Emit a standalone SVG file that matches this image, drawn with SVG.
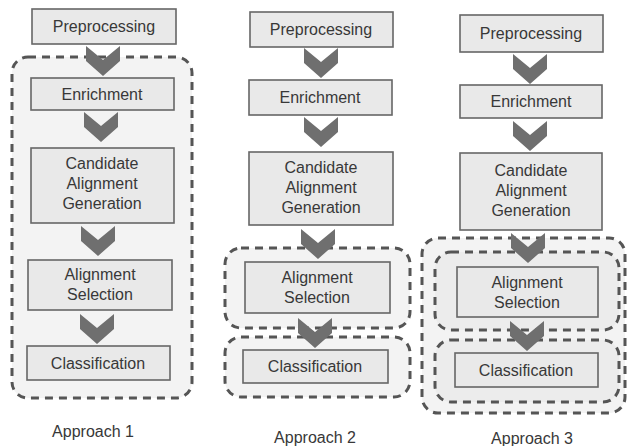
<svg xmlns="http://www.w3.org/2000/svg" width="627" height="446" viewBox="0 0 627 446">
<style>
.box{fill:#e9e9e9;stroke:#666;stroke-width:1.6}
.grp{fill:#f3f3f3;stroke:#555;stroke-width:3;stroke-dasharray:8 6}
.grpi{fill:#ececec;stroke:#555;stroke-width:3;stroke-dasharray:8 6}
.chev{fill:#6f6f6f}
text{font-family:"Liberation Sans",Arial,sans-serif;font-size:16px;fill:#383838;text-anchor:middle}
</style>
<defs>
<polygon id="ch" points="-17,0 0,14 17,0 17,15 0,30 -17,15"/>
</defs>
<rect width="627" height="446" fill="#fff"/>
<g id="groups">
<rect id="g1" class="grp" x="12" y="57" width="180" height="341" rx="16"/>
<rect id="g2a" class="grp" x="225" y="248" width="185" height="80" rx="16"/>
<rect id="g2b" class="grp" x="225" y="337" width="185" height="60" rx="16"/>
<rect id="g3" class="grp" x="422" y="238" width="203" height="175" rx="16"/>
<rect id="g3a" class="grpi" x="435" y="252" width="184" height="78" rx="16"/>
<rect id="g3b" class="grpi" x="435" y="340" width="184" height="62" rx="16"/>
</g>
<g id="connectors">
<use href="#ch" class="chev" x="103" y="46"/>
<use href="#ch" class="chev" x="101" y="112"/>
<use href="#ch" class="chev" x="98" y="226"/>
<use href="#ch" class="chev" x="97" y="314"/>
<use href="#ch" class="chev" x="321" y="48"/>
<use href="#ch" class="chev" x="321" y="117"/>
<use href="#ch" class="chev" x="318" y="229"/>
<use href="#ch" class="chev" x="315" y="318"/>
<use href="#ch" class="chev" x="530" y="54"/>
<use href="#ch" class="chev" x="530" y="121"/>
<use href="#ch" class="chev" x="528" y="233"/>
<use href="#ch" class="chev" x="527" y="321"/>
</g>
<g id="a1-pre"><rect class="box" x="32" y="9" width="144" height="35"/><text x="104" y="32">Preprocessing</text></g>
<g id="a1-enr"><rect class="box" x="31" y="78" width="143" height="32"/><text x="102" y="100">Enrichment</text></g>
<g id="a1-cag"><rect class="box" x="31" y="148" width="143" height="75"/><text x="102" y="169">Candidate</text><text x="102" y="189">Alignment</text><text x="102" y="209">Generation</text></g>
<g id="a1-sel"><rect class="box" x="28" y="260" width="144" height="50"/><text x="100" y="280">Alignment</text><text x="100" y="300">Selection</text></g>
<g id="a1-cls"><rect class="box" x="27" y="346" width="143" height="34"/><text x="98" y="369">Classification</text></g>
<text id="lbl1" x="93" y="437">Approach 1</text>
<g id="a2-pre"><rect class="box" x="250" y="12" width="143" height="35"/><text x="321" y="35">Preprocessing</text></g>
<g id="a2-enr"><rect class="box" x="249" y="80" width="143" height="35"/><text x="320" y="103">Enrichment</text></g>
<g id="a2-cag"><rect class="box" x="249" y="152" width="144" height="73"/><text x="321" y="173">Candidate</text><text x="321" y="193">Alignment</text><text x="321" y="213">Generation</text></g>
<g id="a2-sel"><rect class="box" x="245" y="262" width="145" height="51"/><text x="317" y="283">Alignment</text><text x="317" y="303">Selection</text></g>
<g id="a2-cls"><rect class="box" x="243" y="350" width="145" height="33"/><text x="315" y="372">Classification</text></g>
<text id="lbl2" x="315" y="443">Approach 2</text>
<g id="a3-pre"><rect class="box" x="460" y="15" width="143" height="37"/><text x="531" y="39">Preprocessing</text></g>
<g id="a3-enr"><rect class="box" x="460" y="85" width="142" height="33"/><text x="531" y="107">Enrichment</text></g>
<g id="a3-cag"><rect class="box" x="460" y="153" width="142" height="77"/><text x="531" y="176">Candidate</text><text x="531" y="196">Alignment</text><text x="531" y="216">Generation</text></g>
<g id="a3-sel"><rect class="box" x="457" y="267" width="141" height="50"/><text x="527" y="288">Alignment</text><text x="527" y="308">Selection</text></g>
<g id="a3-cls"><rect class="box" x="455" y="353" width="143" height="34"/><text x="526" y="376">Classification</text></g>
<text id="lbl3" x="532" y="444">Approach 3</text>
</svg>
